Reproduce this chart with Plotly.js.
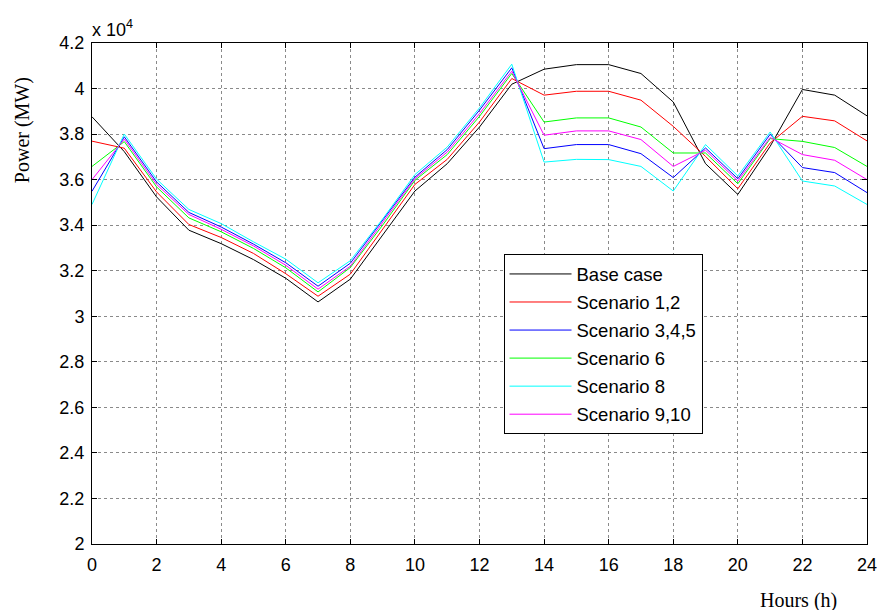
<!DOCTYPE html>
<html>
<head>
<meta charset="utf-8">
<script src="https://cdn.plot.ly/plotly-3.0.1.min.js"></script>
<style>
html,body{margin:0;padding:0;background:#fff;}
#chart{width:878px;height:610px;}
</style>
</head>
<body>
<div id="chart"></div>
<script>
// Hours of the day
const hours = [0,1,2,3,4,5,6,7,8,9,10,11,12,13,14,15,16,17,18,19,20,21,22,23,24];

// Power (MW) for each case
const baseCase   = [38760,37230,35240,33780,33190,32490,31670,30630,31630,33560,35500,36700,38310,40190,40850,41050,41050,40660,39410,36700,35350,37460,39960,39710,38800];
const scen12     = [37690,37380,35460,34030,33460,32760,31870,30880,31850,33810,35790,36890,38530,40440,39710,39880,39880,39490,38340,37020,35600,37610,38780,38580,37700];
const scen345    = [35490,37880,35900,34560,33920,33170,32350,31320,32330,34200,36110,37320,39050,40910,37360,37540,37540,37140,36090,37390,36040,37990,36530,36310,35430];
const scen6      = [36580,37670,35680,34320,33710,32980,32130,31070,32140,34000,35970,37100,38780,40660,38530,38710,38710,38310,37170,37170,35820,37800,37680,37410,36580];
const scen8      = [34910,38000,36020,34690,34070,33270,32510,31470,32440,34270,36220,37430,39150,41070,36770,36890,36880,36580,35500,37540,36160,38090,35940,35720,34910];
const scen910    = [36000,37780,35790,34470,33820,33090,32240,31190,32200,34100,36040,37210,38900,40760,37950,38140,38140,37760,36580,37290,35940,37850,37100,36850,36000];

const seriesNames  = ['Base case','Scenario 1,2','Scenario 3,4,5','Scenario 6','Scenario 8','Scenario 9,10'];
const seriesColors = ['#000000','#ff0000','#0000ff','#00ff00','#00ffff','#ff00ff'];
const seriesData   = [baseCase, scen12, scen345, scen6, scen8, scen910];

const xTickVals = [0,2,4,6,8,10,12,14,16,18,20,22,24];
const yTickVals = [20000,22000,24000,26000,28000,30000,32000,34000,36000,38000,40000,42000];
const yTickText = ['2','2.2','2.4','2.6','2.8','3','3.2','3.4','3.6','3.8','4','4.2'];

const traces = seriesData.map((ys, i) => ({
  x: hours, y: ys, type: 'scatter', mode: 'lines',
  name: seriesNames[i], legendgroup: 'g' + i,
  line: {color: seriesColors[i], width: 1}
}));

const axisCommon = {
  showline: true, linecolor: '#000', linewidth: 1, mirror: 'allticks',
  ticks: 'inside', ticklen: 5, tickcolor: '#000', tickwidth: 1,
  showgrid: true, gridcolor: '#8a8a8a', griddash: 'dot', gridwidth: 1,
  zeroline: false,
  tickfont: {family: 'Liberation Sans, Arial, sans-serif', size: 18, color: '#000'}
};

const layout = {
  width: 878, height: 610,
  margin: {l: 92, r: 11, t: 43, b: 66},
  paper_bgcolor: '#fff', plot_bgcolor: '#fff',
  showlegend: true,
  xaxis: Object.assign({}, axisCommon, {
    range: [0, 24], tickvals: xTickVals, ticklabelstandoff: 4
  }),
  yaxis: Object.assign({}, axisCommon, {
    range: [20000, 42000], tickvals: yTickVals, ticktext: yTickText, ticklabelstandoff: 3
  }),
  legend: {
    x: 0.531, y: 0.578, xanchor: 'left', yanchor: 'top',
    bgcolor: '#fff', bordercolor: '#000', borderwidth: 1,
    font: {family: 'Liberation Sans, Arial, sans-serif', size: 18.5, color: '#000'},
    traceorder: 'grouped', tracegroupgap: 1, itemwidth: 62
  },
  annotations: [
    {text: 'x 10<sup>4</sup>', xref: 'paper', yref: 'paper', x: 0, y: 1, xanchor: 'left', yanchor: 'bottom',
     xshift: -2, yshift: 1, showarrow: false, font: {family: 'Liberation Sans, Arial, sans-serif', size: 18, color: '#000'}},
    {text: 'Power (MW)', xref: 'paper', yref: 'paper', x: 0, y: 0.826, xanchor: 'center', yanchor: 'middle',
     xshift: -70, textangle: -90, showarrow: false,
     font: {family: 'Liberation Serif, Times New Roman, serif', size: 20, color: '#000'}},
    {text: 'Hours (h)', xref: 'paper', yref: 'paper', x: 0.911, y: 0, xanchor: 'center', yanchor: 'middle',
     yshift: -56, showarrow: false,
     font: {family: 'Liberation Serif, Times New Roman, serif', size: 20, color: '#000'}}
  ]
};

Plotly.newPlot('chart', traces, layout, {displayModeBar: false, staticPlot: true});
</script>
</body>
</html>
